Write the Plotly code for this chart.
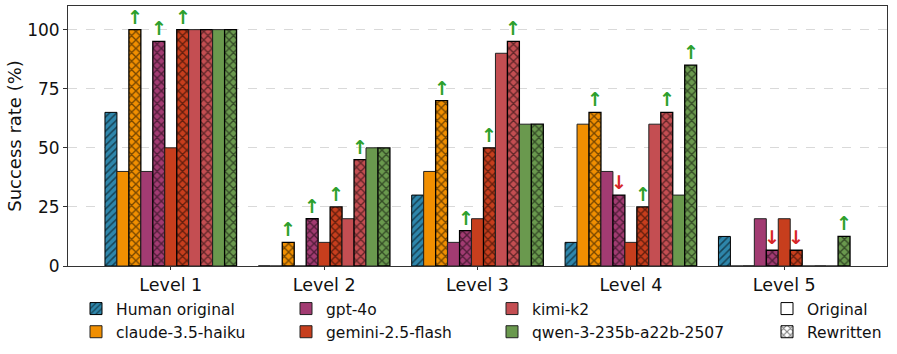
import plotly.graph_objects as go

levels = ["Level 1", "Level 2", "Level 3", "Level 4", "Level 5"]
human = [65, 0, 30, 10, 12.5]
models = ["claude-3.5-haiku", "gpt-4o", "gemini-2.5-flash", "kimi-k2", "qwen-3-235b-a22b-2507"]
claude_orig = [40, 0, 40, 60, 0]
claude_rew = [100, 10, 70, 65, 0]
gpt_orig = [40, 0, 10, 40, 20]
gpt_rew = [95, 20, 15, 30, 6.67]
gemini_orig = [50, 10, 20, 10, 20]
gemini_rew = [100, 25, 50, 25, 6.67]
kimi_orig = [100, 20, 90, 60, 0]
kimi_rew = [100, 45, 95, 65, 0]
qwen_orig = [100, 50, 60, 30, 0]
qwen_rew = [100, 50, 60, 85, 12.5]

human_color = "#2E86AB"
model_colors = ["#F18F01", "#A23B72", "#C73E1D", "#C44E52", "#6A994E"]
orig_vals = [claude_orig, gpt_orig, gemini_orig, kimi_orig, qwen_orig]
rew_vals = [claude_rew, gpt_rew, gemini_rew, kimi_rew, qwen_rew]

W = 0.078
FONT = "DejaVu Sans"
EDGE = "#000000"
idx = list(range(len(levels)))

def xs(slot):
    return [i + (slot - 5) * W for i in idx]

fig = go.Figure()
fig.add_trace(go.Bar(
    x=xs(0), y=human, width=W, name="Human original", legend="legend",
    marker=dict(color=human_color, line=dict(color=EDGE, width=1),
                pattern=dict(shape="/", fgcolor=EDGE, bgcolor=human_color, size=5, solidity=0.3)),
))
legend_for = ["legend", "legend2", "legend2", "legend3", "legend3"]
for m, (name, col) in enumerate(zip(models, model_colors)):
    fig.add_trace(go.Bar(
        x=xs(1 + 2 * m), y=orig_vals[m], width=W, name=name, legend=legend_for[m],
        marker=dict(color=col, line=dict(color="#222", width=1)),
    ))
    fig.add_trace(go.Bar(
        x=xs(2 + 2 * m), y=rew_vals[m], width=W, name=name + " (rewritten)", showlegend=False,
        marker=dict(color=col, line=dict(color=EDGE, width=1.3),
                    pattern=dict(shape="x", fgcolor=EDGE, bgcolor=col, size=6, solidity=0.4)),
    ))
    for i in idx:
        o, r = orig_vals[m][i], rew_vals[m][i]
        if r != o:
            up = r > o
            fig.add_annotation(
                x=i + (2 + 2 * m - 5) * W, y=r, text="<b>↑</b>" if up else "<b>↓</b>",
                showarrow=False, yanchor="bottom", yshift=0,
                font=dict(family=FONT, size=19, color="#2ca02c" if up else "#d62728"),
            )

fig.add_trace(go.Bar(x=[None], y=[None], name="Original", legend="legend4",
                     marker=dict(color="white", line=dict(color=EDGE, width=1))))
fig.add_trace(go.Bar(x=[None], y=[None], name="Rewritten", legend="legend4",
                     marker=dict(color="white", line=dict(color=EDGE, width=1),
                                 pattern=dict(shape="x", fgcolor=EDGE, bgcolor="white", size=6, solidity=0.4))))

def px_x(p):
    return (p - 68) / 819.0

leg_y = (266 - 292) / 260.0
leg_common = dict(orientation="v", xref="paper", yref="paper", yanchor="top", xanchor="left",
                  y=leg_y, font=dict(family=FONT, size=15.5, color="#111"), bgcolor="rgba(0,0,0,0)",
                  itemwidth=30, tracegroupgap=0, traceorder="normal")
fig.update_layout(
    width=897, height=354,
    margin=dict(l=68, r=10, t=6, b=88, autoexpand=False),
    paper_bgcolor="white", plot_bgcolor="white",
    barmode="overlay",
    font=dict(family=FONT, size=16, color="#111"),
    legend=dict(x=px_x(76), **leg_common),
    legend2=dict(x=px_x(286), **leg_common),
    legend3=dict(x=px_x(492), **leg_common),
    legend4=dict(x=px_x(767), **leg_common),
    xaxis=dict(type="linear", range=[-0.67, 4.67], tickvals=idx, ticktext=levels, showgrid=False,
               showline=True, linecolor="#333", linewidth=1, mirror=True,
               ticks="outside", ticklen=3, tickcolor="#333", zeroline=False,
               tickfont=dict(family=FONT, size=17.5, color="#111")),
    yaxis=dict(type="linear", range=[0, 110], tickvals=[0, 25, 50, 75, 100], showgrid=True,
               gridcolor="#d9d9d9", griddash="dash", gridwidth=0.8,
               showline=True, linecolor="#333", linewidth=1, mirror=True,
               ticks="outside", ticklen=4, tickcolor="#333", zeroline=False,
               tickfont=dict(family=FONT, size=17, color="#111"),
               title=dict(text="Success rate (%)", font=dict(family=FONT, size=18, color="#111"), standoff=0)),
)

fig.write_html("out.html")
